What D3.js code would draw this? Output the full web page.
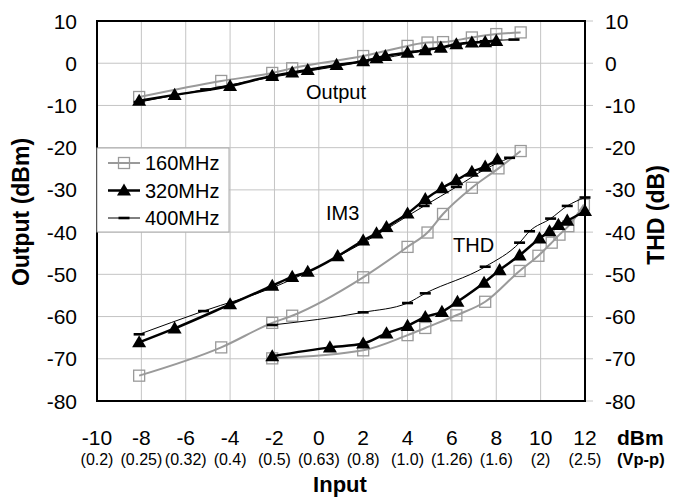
<!DOCTYPE html>
<html><head><meta charset="utf-8">
<script src="https://cdn.jsdelivr.net/npm/d3@7/dist/d3.min.js"></script>
<style>html,body{margin:0;padding:0;background:#fff;} text{font-family:Arial,"Liberation Sans",sans-serif;}</style>
</head><body>
<svg id="c" width="674" height="498"></svg>
<script>
// ---- data ----
const xTicks = [-10,-8,-6,-4,-2,0,2,4,6,8,10,12];
const vppLabels = ["(0.2)","(0.25)","(0.32)","(0.4)","(0.5)","(0.63)","(0.8)","(1.0)","(1.26)","(1.6)","(2)","(2.5)"];
const yTicks = [10,0,-10,-20,-30,-40,-50,-60,-70,-80];
const seriesNames = ["160MHz","320MHz","400MHz"];

const out160x = [-8.1,-4.4,-2.1,-1.2,2.0,4.0,4.9,5.6,6.9,8.0,9.1];
const out160y = [-8.0,-4.2,-2.3,-1.2,1.7,4.1,4.9,5.0,6.1,6.9,7.3];
const out320x = [-8.1,-6.5,-4.0,-2.1,-1.2,-0.5,0.8,2.0,2.6,3.0,4.0,4.8,5.5,6.2,6.9,7.5,8.0];
const out320y = [-8.9,-7.5,-5.4,-3.0,-2.2,-1.6,-0.4,0.5,1.2,1.7,2.5,3.1,3.7,4.5,4.9,5.0,5.3];
const out400x = [-8.1,-5.1,-2.1,2.0,4.8,6.2,7.5,8.8];
const out400y = [-9.2,-6.2,-3.3,0.3,3.0,4.3,5.2,5.6];

const im160x = [-8.1,-4.4,-2.1,-1.2,2.0,4.0,4.9,5.6,6.9,8.1,9.1];
const im160y = [-74.0,-67.3,-61.5,-59.8,-50.7,-43.5,-40.1,-35.7,-29.5,-24.9,-20.8];
const im320x = [-8.1,-6.5,-4.0,-2.1,-1.2,-0.5,0.85,2.0,2.6,3.05,4.0,4.8,5.55,6.2,6.9,7.5,8.05];
const im320y = [-66.1,-62.8,-57.1,-52.7,-50.6,-49.4,-45.7,-42.0,-40.3,-38.8,-35.6,-32.2,-29.6,-27.7,-25.7,-24.5,-22.8];
const im400x = [-8.1,-5.2,-2.1,2.0,4.75,6.2,7.5,8.6];
const im400y = [-64.2,-58.7,-53.2,-42.5,-33.8,-29.3,-25.1,-22.4];

const thd160x = [-2.1,2.0,4.0,4.8,6.2,7.5,9.05,9.9,10.5,10.85,11.25,11.95];
const thd160y = [-69.9,-68.0,-64.4,-62.7,-59.7,-56.5,-49.2,-45.6,-42.5,-40.6,-38.6,-33.5];
const thd320x = [-2.1,0.5,2.0,3.05,4.0,4.8,5.55,6.25,7.45,8.15,9.05,9.95,10.4,10.8,11.2,12.0];
const thd320y = [-69.4,-67.3,-66.4,-64.0,-62.2,-60.1,-58.9,-56.5,-52.0,-49.0,-45.5,-41.5,-39.8,-38.3,-37.3,-35.0];
const thd400x = [-2.1,2.0,4.0,4.8,7.5,9.05,9.5,10.45,11.2,12.0];
const thd400y = [-62.0,-59.0,-56.8,-54.5,-48.2,-42.5,-39.8,-36.8,-33.8,-31.8];

// ---- layout ----
const L=97, R=585, T=21, B=401;
const x = d3.scaleLinear().domain([-10,12]).range([L,R]);
const y = d3.scaleLinear().domain([-80,10]).range([B,T]);
const svg = d3.select("#c");

// grid
const grid = svg.append("g");
grid.selectAll(".vg").data(xTicks).join("line")
  .attr("x1",d=>x(d)).attr("x2",d=>x(d)).attr("y1",T).attr("y2",B)
  .attr("stroke","#c4c4c4").attr("stroke-width",1);
grid.selectAll(".hg").data(yTicks).join("line")
  .attr("x1",L).attr("x2",R+8).attr("y1",d=>y(d)).attr("y2",d=>y(d))
  .attr("stroke","#c4c4c4").attr("stroke-width",1);

// series
const zip=(xs,ys)=>xs.map((v,i)=>[v,ys[i]]);
const line = d3.line().x(d=>x(d[0])).y(d=>y(d[1])).curve(d3.curveMonotoneX);
const styles = {
  "160MHz":{stroke:"#9a9a9a",w:2},
  "320MHz":{stroke:"#000",w:2.5},
  "400MHz":{stroke:"#000",w:1}
};
const groups = {
  "160MHz":[zip(out160x,out160y),zip(im160x,im160y),zip(thd160x,thd160y)],
  "320MHz":[zip(out320x,out320y),zip(im320x,im320y),zip(thd320x,thd320y)],
  "400MHz":[zip(out400x,out400y),zip(im400x,im400y),zip(thd400x,thd400y)]
};
const tri = d3.symbol().type(d3.symbolTriangle).size(85);
function marker(g,name,px,py){
  if(name==="160MHz"){
    g.append("rect").attr("x",px-5.5).attr("y",py-5.5).attr("width",11).attr("height",11)
      .attr("fill","none").attr("stroke","#9a9a9a").attr("stroke-width",1.3);
  } else if(name==="320MHz"){
    g.append("path").attr("d",tri).attr("transform",`translate(${px},${py+1})`).attr("fill","#000");
  } else {
    g.append("line").attr("x1",px-5.5).attr("x2",px+5.5).attr("y1",py).attr("y2",py)
      .attr("stroke","#000").attr("stroke-width",2.6);
  }
}
const order=["160MHz","400MHz","320MHz"];
order.forEach(name=>{
  const g=svg.append("g");
  groups[name].forEach(pts=>{
    g.append("path").attr("d",line(pts)).attr("fill","none")
      .attr("stroke",styles[name].stroke).attr("stroke-width",styles[name].w);
    pts.forEach(p=>marker(g,name,x(p[0]),y(p[1])));
  });
});

// frame
svg.append("rect").attr("x",L).attr("y",T).attr("width",R-L).attr("height",B-T)
  .attr("fill","none").attr("stroke","#000").attr("stroke-width",2);

// legend
const lg = svg.append("g");
lg.append("rect").attr("x",L).attr("y",148).attr("width",132).attr("height",84)
  .attr("fill","#fff").attr("stroke","#aaa").attr("stroke-width",1);
const ly = d3.scalePoint().domain(seriesNames).range([163,218]);
seriesNames.forEach(name=>{
  const yy=ly(name);
  lg.append("line").attr("x1",108).attr("x2",140).attr("y1",yy).attr("y2",yy)
    .attr("stroke",styles[name].stroke).attr("stroke-width",styles[name].w);
  marker(lg,name,124,yy);
  lg.append("text").attr("x",145).attr("y",yy+7).attr("font-size",20).text(name);
});

// curve labels
svg.append("text").attr("x",306).attr("y",99).attr("font-size",20).text("Output");
svg.append("text").attr("x",326).attr("y",220).attr("font-size",20).text("IM3");
svg.append("text").attr("x",453).attr("y",252).attr("font-size",20).text("THD");

// y tick labels
svg.selectAll(".yl").data(yTicks).join("text").attr("x",77).attr("y",d=>y(d)+7.5)
  .attr("text-anchor","end").attr("font-size",21).text(d=>d);
svg.selectAll(".yr").data(yTicks).join("text").attr("x",605).attr("y",d=>y(d)+7.5)
  .attr("font-size",21).text(d=>d);

// x tick labels
svg.selectAll(".xl").data(xTicks).join("text").attr("x",d=>x(d)).attr("y",445)
  .attr("text-anchor","middle").attr("font-size",21).text(d=>d);
svg.selectAll(".vl").data(xTicks).join("text").attr("x",d=>x(d)).attr("y",465)
  .attr("text-anchor","middle").attr("font-size",16).text((d,i)=>vppLabels[i]);
svg.append("text").attr("x",617).attr("y",445).attr("font-size",21).attr("font-weight","bold").text("dBm");
svg.append("text").attr("x",617).attr("y",465).attr("font-size",16.5).attr("font-weight","bold").text("(Vp-p)");

// axis titles
svg.append("text").attr("x",340).attr("y",492).attr("text-anchor","middle")
  .attr("font-size",22).attr("font-weight","bold").text("Input");
svg.append("text").attr("transform","translate(29,212) rotate(-90)").attr("text-anchor","middle")
  .attr("font-size",23).attr("font-weight","bold").text("Output (dBm)");
svg.append("text").attr("transform","translate(664,215) rotate(-90)").attr("text-anchor","middle")
  .attr("font-size",23).attr("font-weight","bold").text("THD (dB)");
</script>
</body></html>
